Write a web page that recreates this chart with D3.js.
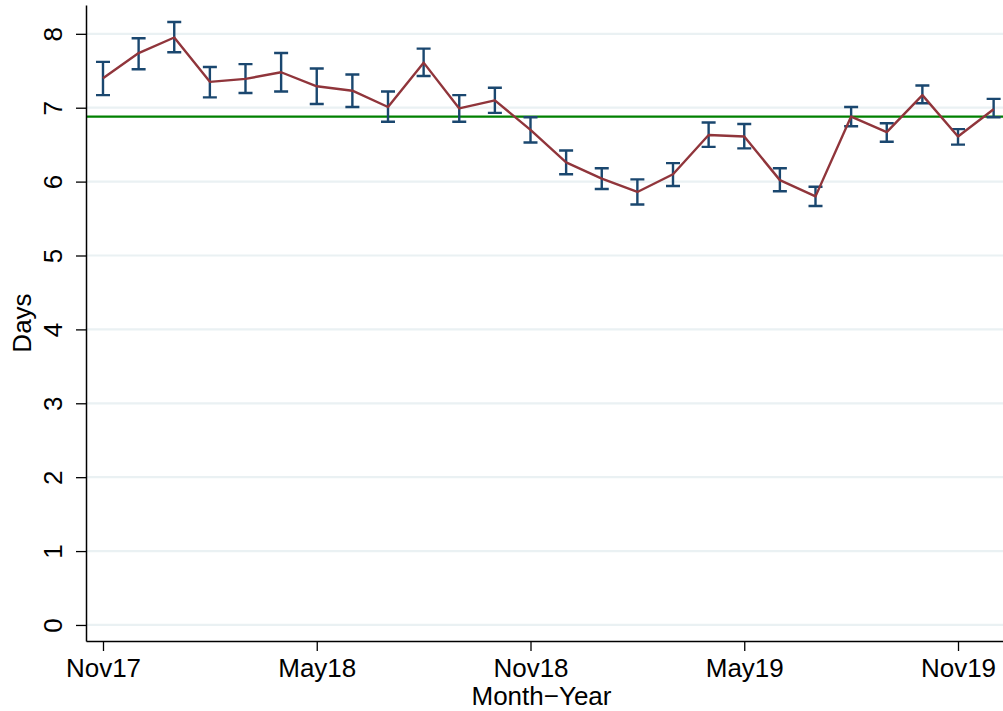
<!DOCTYPE html>
<html>
<head>
<meta charset="utf-8">
<script src="https://cdn.jsdelivr.net/npm/d3@7"></script>
<style>
  html, body { margin: 0; padding: 0; background: #fff; }
  svg { display: block; font-family: "Liberation Sans", Arial, Helvetica, sans-serif; }
</style>
</head>
<body>
<svg id="chart" width="1003" height="711"></svg>
<script>
// Monthly mean length of stay (days) with 95% confidence intervals
const months = ["Nov17","Dec17","Jan18","Feb18","Mar18","Apr18","May18","Jun18","Jul18","Aug18",
                "Sep18","Oct18","Nov18","Dec18","Jan19","Feb19","Mar19","Apr19","May19","Jun19",
                "Jul19","Aug19","Sep19","Oct19","Nov19","Dec19"];
const meanDays = [7.40, 7.74, 7.95, 7.35, 7.39, 7.48, 7.29, 7.23, 7.01, 7.61,
                  6.99, 7.10, 6.70, 6.26, 6.04, 5.86, 6.10, 6.63, 6.61, 6.02,
                  5.80, 6.88, 6.67, 7.17, 6.61, 6.98];
const ciUpper = [7.62, 7.94, 8.16, 7.55, 7.59, 7.74, 7.53, 7.45, 7.22, 7.80,
                 7.17, 7.27, 6.87, 6.42, 6.18, 6.03, 6.25, 6.80, 6.78, 6.18,
                 5.93, 7.01, 6.79, 7.30, 6.71, 7.12];
const ciLower = [7.17, 7.52, 7.75, 7.14, 7.20, 7.22, 7.05, 7.01, 6.81, 7.43,
                 6.81, 6.93, 6.53, 6.10, 5.90, 5.69, 5.94, 6.47, 6.45, 5.87,
                 5.67, 6.75, 6.54, 7.06, 6.50, 6.87];
const overallMean = 6.88;
const yTicks = [0, 1, 2, 3, 4, 5, 6, 7, 8];
const xTickLabels = ["Nov17", "May18", "Nov18", "May19", "Nov19"];
const xTickIndex = [0, 6, 12, 18, 24];

const data = months.map((m, i) => ({ i, m, mean: meanDays[i], hi: ciUpper[i], lo: ciLower[i] }));

const svg = d3.select("#chart");
const fontSize = 26;

const x = d3.scaleLinear().domain([-0.477, 25.263]).range([86, 1003]);
const y = d3.scaleLinear().domain([-0.217, 8.39]).range([641, 5]);

// horizontal grid
svg.append("g")
  .selectAll("line")
  .data(yTicks)
  .join("line")
  .attr("x1", x.range()[0]).attr("x2", x.range()[1])
  .attr("y1", d => y(d)).attr("y2", d => y(d))
  .attr("stroke", "#eaf1f3")
  .attr("stroke-width", 2.2);

// overall mean reference line
svg.append("line")
  .attr("x1", x.range()[0]).attr("x2", x.range()[1])
  .attr("y1", y(overallMean)).attr("y2", y(overallMean))
  .attr("stroke", "#008000")
  .attr("stroke-width", 2.4);

// confidence interval caps
const capHalf = 7;
const bars = svg.append("g")
  .attr("stroke", "#1a476f")
  .attr("stroke-width", 2.4)
  .attr("fill", "none");
bars.selectAll("path")
  .data(data)
  .join("path")
  .attr("d", d => {
    const cx = x(d.i), t = y(d.hi), b = y(d.lo);
    return `M${cx},${t}V${b}M${cx - capHalf},${t}H${cx + capHalf}M${cx - capHalf},${b}H${cx + capHalf}`;
  });

// mean line
svg.append("path")
  .datum(data)
  .attr("fill", "none")
  .attr("stroke", "#90353b")
  .attr("stroke-width", 2.4)
  .attr("stroke-linejoin", "round")
  .attr("d", d3.line().x(d => x(d.i)).y(d => y(d.mean)));

// y axis
const yAxis = svg.append("g")
  .attr("transform", `translate(${x.range()[0]},0)`)
  .call(d3.axisLeft(y).tickValues(yTicks).tickSize(10).tickSizeOuter(0).tickPadding(14));
yAxis.select(".domain").attr("stroke", "#000").attr("stroke-width", 1.5);
yAxis.selectAll(".tick line").attr("stroke", "#000").attr("stroke-width", 1.3);
yAxis.selectAll(".tick text")
  .attr("font-size", fontSize)
  .attr("fill", "#000")
  .attr("font-family", "Liberation Sans, Arial, sans-serif")
  .attr("x", null).attr("dy", null)
  .attr("text-anchor", "middle")
  .attr("transform", "translate(-24,0) rotate(-90)");

// x axis
const xAxis = svg.append("g")
  .attr("transform", `translate(0,${y.range()[0]})`)
  .call(d3.axisBottom(x).tickValues(xTickIndex).tickFormat((d, k) => xTickLabels[k]).tickSize(10).tickSizeOuter(0).tickPadding(6));
xAxis.select(".domain").attr("stroke", "#000").attr("stroke-width", 1.5);
xAxis.selectAll(".tick line").attr("stroke", "#000").attr("stroke-width", 1.3);
xAxis.selectAll(".tick text")
  .attr("font-size", fontSize)
  .attr("fill", "#000")
  .attr("font-family", "Liberation Sans, Arial, sans-serif")
  .attr("y", 36).attr("dy", null);

// axis titles
svg.append("text")
  .attr("x", (x.range()[0] + x.range()[1]) / 2 - 3)
  .attr("y", 705)
  .attr("text-anchor", "middle")
  .attr("font-size", fontSize)
  .text("Month\u2212Year");

svg.append("text")
  .attr("transform", `translate(31,${(y.range()[0] + y.range()[1]) / 2}) rotate(-90)`)
  .attr("text-anchor", "middle")
  .attr("font-size", fontSize)
  .text("Days");
</script>
</body>
</html>
